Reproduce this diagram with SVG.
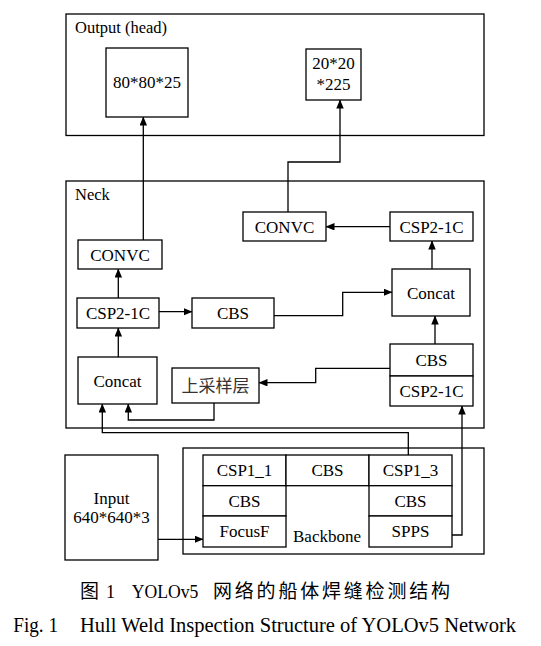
<svg xmlns="http://www.w3.org/2000/svg" width="541" height="646" viewBox="0 0 541 646">
<style>
.box{fill:#fff;stroke:#000;stroke-width:1.3}
.frame{fill:none;stroke:#000;stroke-width:1.3}
.ln{fill:none;stroke:#000;stroke-width:1.3}
.arr{marker-end:url(#ah)}
.t{font-family:"Liberation Serif","Times New Roman",serif;font-size:17px;fill:#000;text-anchor:middle}
.tl{font-family:"Liberation Serif","Times New Roman",serif;font-size:16.5px;fill:#000}
.cjk{font-family:"Liberation Serif","Noto Sans CJK SC",sans-serif;font-size:17px;fill:#333;text-anchor:middle}
.cap{font-family:"Liberation Serif","Times New Roman",serif;fill:#000}
.capz{font-family:"Noto Sans CJK SC",sans-serif;fill:#000}
</style>
<defs>
<marker id="ah" markerUnits="userSpaceOnUse" markerWidth="9" markerHeight="8" refX="8.5" refY="3.75" orient="auto">
<path d="M0,0 L9,3.75 L0,7.5 z" fill="#000"/>
</marker>
</defs>
<rect width="541" height="646" fill="#fff"/>

<g id="output-head">
<rect class="frame" x="66" y="14" width="418" height="121.5"/>
<text class="tl" x="75" y="33">Output (head)</text>
</g>
<g id="out-80">
<rect class="box" x="106" y="48" width="82" height="69"/>
<text class="t" x="147" y="88">80*80*25</text>
</g>
<g id="out-20">
<rect class="box" x="306" y="49" width="55" height="51"/>
<text class="t" x="333.5" y="68.5">20*20</text>
<text class="t" x="333.5" y="89.5">*225</text>
</g>

<g id="neck">
<rect class="frame" x="66" y="181" width="418" height="247"/>
<text class="tl" x="75" y="200">Neck</text>
</g>

<g id="connectors">
<path class="ln arr" d="M143.3,240 V117"/>
<path class="ln arr" d="M288,212 V162 H340 V100"/>
<path class="ln arr" d="M390,226.7 H326"/>
<path class="ln arr" d="M432,269 V241"/>
<path class="ln arr" d="M118.3,298 V269"/>
<path class="ln arr" d="M159,311.7 H192"/>
<path class="ln arr" d="M274,315.7 H342.7 V292.3 H392"/>
<path class="ln arr" d="M118.3,357 V328"/>
<path class="ln arr" d="M435,344 V316"/>
<path class="ln arr" d="M390,368.3 H315.7 V382.7 H259"/>
<path class="ln arr" d="M214,403 V420 H128.3 V404"/>
<path class="ln arr" d="M408.3,455 V432.7 H102.3 V404"/>
<path class="ln arr" d="M452,535 H462 V406"/>
<path class="ln arr" d="M158,539.3 H203"/>
</g>

<g id="convc-top">
<rect class="box" x="243" y="212" width="83" height="29"/>
<text class="t" x="284.5" y="232.5">CONVC</text>
</g>
<g id="csp2-1c-top">
<rect class="box" x="390" y="212" width="83" height="29"/>
<text class="t" x="431.5" y="232.5">CSP2-1C</text>
</g>
<g id="concat-right">
<rect class="box" x="392" y="269" width="78" height="47"/>
<text class="t" x="431" y="298.5">Concat</text>
</g>
<g id="convc-left">
<rect class="box" x="78" y="240" width="84" height="29"/>
<text class="t" x="120" y="260.5">CONVC</text>
</g>
<g id="csp2-1c-left">
<rect class="box" x="77" y="298" width="82" height="30"/>
<text class="t" x="118" y="319">CSP2-1C</text>
</g>
<g id="cbs-mid">
<rect class="box" x="192" y="298" width="82" height="30"/>
<text class="t" x="233" y="319">CBS</text>
</g>
<g id="concat-left">
<rect class="box" x="78" y="357" width="79" height="47"/>
<text class="t" x="117.5" y="386.5">Concat</text>
</g>
<g id="upsample">
<rect class="box" x="172" y="368" width="87" height="35"/>
<text class="cjk" x="215.5" y="391.5">上采样层</text>
</g>
<g id="cbs-right">
<rect class="box" x="390" y="344" width="83" height="32"/>
<text class="t" x="431.5" y="366">CBS</text>
</g>
<g id="csp2-1c-right">
<rect class="box" x="390" y="376" width="83" height="30"/>
<text class="t" x="431.5" y="397">CSP2-1C</text>
</g>

<g id="input">
<rect class="box" x="65" y="455" width="93" height="105"/>
<text class="t" x="111.5" y="504">Input</text>
<text class="t" x="111.5" y="523">640*640*3</text>
</g>

<g id="backbone">
<rect class="frame" x="183" y="448" width="301" height="106"/>
<text class="t" x="327" y="541.5">Backbone</text>
</g>
<g id="csp1-1">
<rect class="box" x="203" y="455" width="83" height="30.7"/>
<text class="t" x="244.5" y="476">CSP1_1</text>
</g>
<g id="cbs-bb-left">
<rect class="box" x="203" y="485.7" width="83" height="30.3"/>
<text class="t" x="244.5" y="506.5">CBS</text>
</g>
<g id="focusf">
<rect class="box" x="203" y="516" width="83" height="31"/>
<text class="t" x="244.5" y="537">FocusF</text>
</g>
<g id="cbs-bb-mid">
<rect class="box" x="286" y="455" width="83" height="30.7"/>
<text class="t" x="327.5" y="476">CBS</text>
</g>
<g id="csp1-3">
<rect class="box" x="369" y="455" width="83" height="30.7"/>
<text class="t" x="410.5" y="476">CSP1_3</text>
</g>
<g id="cbs-bb-right">
<rect class="box" x="369" y="485.7" width="83" height="30.3"/>
<text class="t" x="410.5" y="506.5">CBS</text>
</g>
<g id="spps">
<rect class="box" x="369" y="516" width="83" height="31"/>
<text class="t" x="410.5" y="537">SPPS</text>
</g>

<g id="caption">
<text class="capz" x="80" y="598" font-size="19">图</text>
<text class="cap" x="106" y="598" font-size="18">1</text>
<text class="cap" x="131.7" y="598" font-size="18" textLength="66.7" lengthAdjust="spacingAndGlyphs">YOLOv5</text>
<text class="capz" x="213" y="598" font-size="19" textLength="237" lengthAdjust="spacing">网络的船体焊缝检测结构</text>
<text class="cap" x="13.3" y="632" font-size="20" textLength="44.7" lengthAdjust="spacingAndGlyphs">Fig. 1</text>
<text class="cap" x="80" y="632" font-size="20" textLength="436" lengthAdjust="spacingAndGlyphs">Hull Weld Inspection Structure of YOLOv5 Network</text>
</g>
</svg>
